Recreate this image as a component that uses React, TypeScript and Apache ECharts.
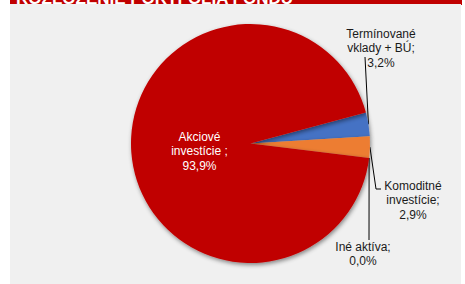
import React, { useEffect, useRef } from "react";
import * as echarts from "echarts";

const categories = ["Termínované\nvklady + BÚ", "Komoditné\ninvestície", "Iné aktíva", "Akciové\ninvestície "];
const values = [3.2, 2.9, 0.0, 93.9];
const colors = ["#4472C4", "#ED7D31", "#A5A5A5", "#C00000"];
const titleText = "ROZLOŽENIE PORTFÓLIA FONDU";

const labelPos: Record<number, [number, number]> = {
  0: [381, 48],
  1: [413, 200],
  2: [363, 254],
  3: [199.5, 151],
};

export default function App() {
  const ref = useRef<HTMLDivElement>(null);
  useEffect(() => {
    const chart = echarts.init(ref.current!, null, { renderer: "svg" });
    const fmt = (v: number) => v.toFixed(1).replace(".", ",") + "%";
    chart.setOption({
      animation: false,
      backgroundColor: "#ffffff",
      graphic: [
        { type: "rect", z: 0, shape: { x: 10, y: 0, width: 452, height: 5 }, style: { fill: "#C00000" } },
        {
          type: "text", z: 1, x: 16, y: 7,
          style: { text: titleText, fill: "#ffffff", font: "bold 17px 'Liberation Sans', Arial, sans-serif", textVerticalAlign: "bottom" },
        },
        { type: "rect", z: 2, shape: { x: 10, y: 4, width: 451, height: 280 }, style: { fill: "#F0F0F0" } },
      ],
      series: [
        {
          type: "pie",
          z: 5,
          center: [250.5, 143.5],
          radius: 119.5,
          startAngle: 15,
          clockwise: true,
          avoidLabelOverlap: false,
          data: categories.map((c, i) => ({
            name: c,
            value: values[i],
            itemStyle: { color: colors[i] },
            label: i === 3
              ? { position: "inside", color: "#ffffff" }
              : { position: "outside", color: "#1a1a1a" },
            labelLine: { show: i !== 3 },
          })),
          itemStyle: {
            shadowBlur: 4,
            shadowOffsetX: 1,
            shadowOffsetY: 2,
            shadowColor: "rgba(0,0,0,0.45)",
          },
          label: {
            show: true,
            formatter: (p: any) => p.name + ";\n" + fmt(p.value),
            fontFamily: "'Liberation Sans', Arial, sans-serif",
            fontSize: 12,
            lineHeight: 14.5,
            align: "center",
          },
          labelLine: {
            show: true,
            length: 10,
            length2: 5,
            lineStyle: { color: "#000000", width: 1 },
          },
          labelLayout: (params: any) => {
            const i = params.dataIndex;
            const p = labelPos[i];
            const out: any = { x: p[0], y: p[1], align: "center", verticalAlign: "middle" };
            const lp = params.labelLinePoints;
            if (lp && lp.length && i !== 3) {
              const s = lp[0];
              if (i === 0) {
                out.labelLinePoints = [s, [p[0] - 16, p[1] + 9], [p[0] - 16, p[1] + 9]];
              } else if (i === 1) {
                out.labelLinePoints = [s, [p[0] - 37, p[1] - 11], [p[0] - 32, p[1] - 11]];
              } else {
                out.labelLinePoints = [s, [p[0] + 6, p[1] - 14], [p[0] + 6, p[1] - 14]];
              }
            }
            return out;
          },
          emphasis: { disabled: true },
        },
      ],
    });
    return () => chart.dispose();
  }, []);
  return <div ref={ref} style={{ position: "fixed", left: 0, top: 0, width: 465, height: 284 }} />;
}
